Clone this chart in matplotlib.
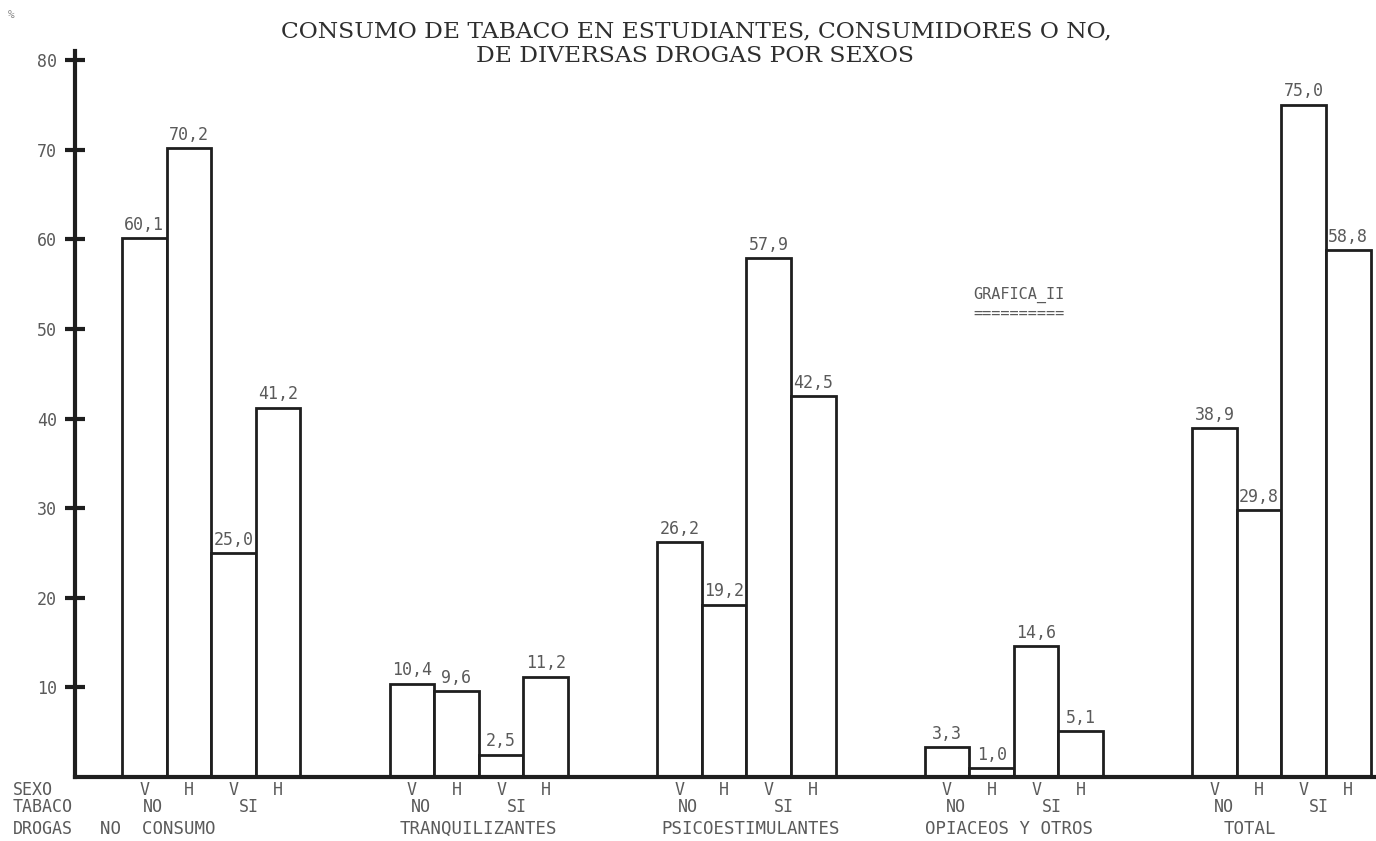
import matplotlib
matplotlib.use('Agg')
import matplotlib.pyplot as plt
from matplotlib.transforms import blended_transform_factory

# data
drogas = ['NO  CONSUMO', 'TRANQUILIZANTES', 'PSICOESTIMULANTES', 'OPIACEOS Y OTROS', 'TOTAL']
tabaco = ['NO', 'SI']
sexo = ['V', 'H']
no_consumo = [60.1, 70.2, 25.0, 41.2]
tranquilizantes = [10.4, 9.6, 2.5, 11.2]
psicoestimulantes = [26.2, 19.2, 57.9, 42.5]
opiaceos = [3.3, 1.0, 14.6, 5.1]
total = [38.9, 29.8, 75.0, 58.8]
y_ticks = [10, 20, 30, 40, 50, 60, 70, 80]

series = [no_consumo, tranquilizantes, psicoestimulantes, opiaceos, total]

mono = 'DejaVu Sans Mono'
grey = '#5a5a5a'
ink = '#1e1e1e'

fig = plt.figure(figsize=(13.76, 8.41), dpi=100)
ax = fig.add_axes([0.0545, 0.0761, 0.9455, 0.863])

group_step = 6
for g, vals in enumerate(series):
    for i, v in enumerate(vals):
        x = g * group_step + i + 0.5
        ax.bar(x, v, width=1.0, color='white', edgecolor=ink, linewidth=2.0, zorder=2)
        txt = f"{v:.1f}".replace('.', ',')
        ax.text(x, v + 0.5, txt, ha='center', va='bottom', fontsize=12,
                family=mono, color=grey)

ax.set_xlim(-1.054, 28.12)
ax.set_ylim(0, 81)
ax.set_yticks(y_ticks)
ax.set_yticklabels([str(t) for t in y_ticks], family=mono, color=grey, fontsize=12)
ax.tick_params(axis='y', direction='inout', length=14, width=3, color=ink, pad=6)
ax.set_xticks([])
for s in ['top', 'right']:
    ax.spines[s].set_visible(False)
ax.spines['left'].set_linewidth(3)
ax.spines['left'].set_color(ink)
ax.spines['bottom'].set_linewidth(3)
ax.spines['bottom'].set_color(ink)

# labels under the axis: sexo / tabaco / drogas rows
tr = blended_transform_factory(ax.transData, fig.transFigure)
row_y = [0.0606, 0.0405, 0.0143]
tabaco_pos = [0.7, 2.85]
name_shift = [-1.2, 0, 0.1, -0.1, -0.7]
for g in range(len(series)):
    base = g * group_step
    for i in range(4):
        ax.text(base + i + 0.5, row_y[0], sexo[i % 2], transform=tr, ha='center',
                va='center', fontsize=12, family=mono, color=grey)
    for k, t in enumerate(tabaco):
        ax.text(base + tabaco_pos[k], row_y[1], t, transform=tr, ha='center',
                va='center', fontsize=12, family=mono, color=grey)
    ax.text(base + 2 + name_shift[g], row_y[2], drogas[g], transform=tr, ha='center',
            va='center', fontsize=12.5, family=mono, color=grey)

for lab, yy in zip(['SEXO', 'TABACO', 'DROGAS'], row_y):
    fig.text(0.009, yy, lab, ha='left', va='center', fontsize=12, family=mono, color=grey)

fig.text(0.006, 0.982, '%', fontsize=8, family=mono, color='#888888', ha='left', va='center')

fig.text(0.506, 0.963, 'CONSUMO DE TABACO EN ESTUDIANTES, CONSUMIDORES O NO,',
         ha='center', va='center', fontsize=16.8, family='DejaVu Serif', color='#2e2e2e')
fig.text(0.505, 0.933, 'DE DIVERSAS DROGAS POR SEXOS',
         ha='center', va='center', fontsize=16.8, family='DejaVu Serif', color='#2e2e2e')

fig.text(0.7405, 0.649, 'GRAFICA_II', ha='center', va='center', fontsize=11,
         family=mono, color=grey)
fig.text(0.7405, 0.628, '==========', ha='center', va='center', fontsize=11,
         family=mono, color=grey)

fig.savefig('out.png', dpi=100, facecolor='white')
